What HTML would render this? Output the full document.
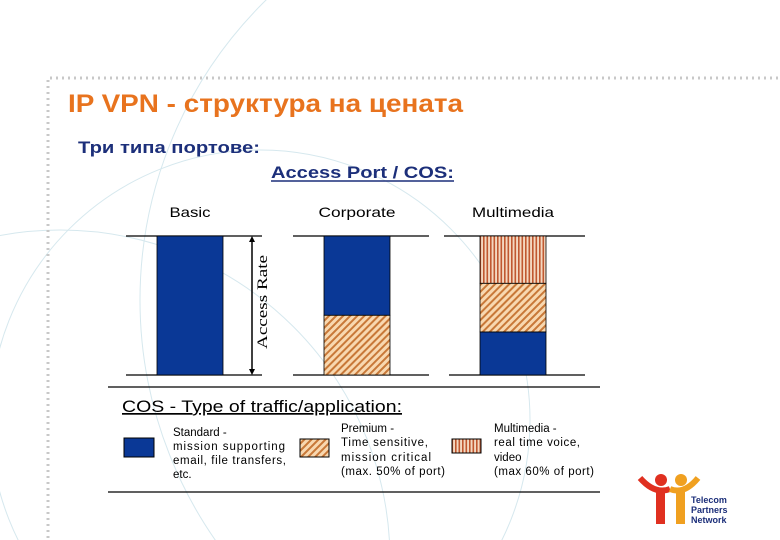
<!DOCTYPE html>
<html><head><meta charset="utf-8"><style>
html,body{margin:0;width:780px;height:540px;overflow:hidden;background:#fff;font-family:"Liberation Sans",sans-serif;}
svg{display:block;overflow:hidden;}
</style></head><body>
<svg width="780" height="540" xmlns="http://www.w3.org/2000/svg">
<defs>
<clipPath id="clip"><rect width="780" height="540"/></clipPath>
<pattern id="diag" width="5" height="5" patternUnits="userSpaceOnUse" patternTransform="rotate(45)">
<rect width="5" height="5" fill="#f8d8b0"/><rect width="2" height="5" fill="#c87838"/></pattern>
<pattern id="vert" width="3.5" height="4" patternUnits="userSpaceOnUse">
<rect width="3.5" height="4" fill="#f4d8c0"/><rect width="1.6" height="4" fill="#c05830"/></pattern>
</defs>
<g clip-path="url(#clip)" fill="none" stroke="#d6e8ee" stroke-width="1">
<circle cx="260" cy="420" r="270"/><circle cx="560" cy="300" r="420"/><circle cx="60" cy="560" r="330"/>
</g>
<line x1="50" y1="78" x2="780" y2="78" stroke="#c8c8c8" stroke-width="3" stroke-dasharray="2 4"/>
<line x1="48" y1="80" x2="48" y2="540" stroke="#c8c8c8" stroke-width="3" stroke-dasharray="2 4"/>
<text x="68" y="112" font-size="25" font-weight="bold" fill="#e8731e" textLength="395" lengthAdjust="spacingAndGlyphs">IP VPN - структура на цената</text>
<text x="78" y="153" font-size="17" font-weight="bold" fill="#1c2f7a" textLength="182" lengthAdjust="spacingAndGlyphs">Три типа портове:</text>
<text x="271" y="178" font-size="17" font-weight="bold" fill="#1c2f7a" textLength="183" lengthAdjust="spacingAndGlyphs">Access Port / COS:</text>
<line x1="271" y1="181" x2="454" y2="181" stroke="#1c2f7a" stroke-width="1.5"/>
<g id="chart"></g>
<line x1="252" y1="238" x2="252" y2="373" stroke="#000" stroke-width="1.5"/>
<path d="M249,242 L252,236 L255,242 Z M249,369 L252,375 L255,369 Z" fill="#000"/>
<text transform="translate(267,349) rotate(-90)" font-family="Liberation Serif,serif" font-size="15" fill="#000" textLength="94" lengthAdjust="spacingAndGlyphs">Access Rate</text>
<line x1="108" y1="387" x2="600" y2="387" stroke="#000" stroke-width="1.2"/>
<line x1="108" y1="492" x2="600" y2="492" stroke="#000" stroke-width="1.2"/>
<text x="122" y="412" font-size="17" fill="#000" text-decoration="underline" textLength="280" lengthAdjust="spacingAndGlyphs">COS - Type of traffic/application:</text>
<g>
<rect x="124" y="438" width="30" height="19" fill="#0a3896" stroke="#000"/>
<text font-size="11.5" fill="#000"><tspan x="173" y="436">Standard -</tspan><tspan x="173" y="450" textLength="112">mission supporting</tspan><tspan x="173" y="464" textLength="113">email, file transfers,</tspan><tspan x="173" y="478">etc.</tspan></text></g>
<g>
<rect x="300" y="439" width="29" height="18" fill="url(#diag)" stroke="#000"/>
<text font-size="11.5" fill="#000"><tspan x="341" y="432">Premium -</tspan><tspan x="341" y="446" textLength="87">Time sensitive,</tspan><tspan x="341" y="461" textLength="90">mission critical</tspan><tspan x="341" y="475" textLength="104">(max. 50% of port)</tspan></text></g>
<g>
<rect x="452" y="439" width="29" height="14" fill="url(#vert)" stroke="#000"/>
<text font-size="11.5" fill="#000"><tspan x="494" y="432">Multimedia -</tspan><tspan x="494" y="446" textLength="86">real time voice,</tspan><tspan x="494" y="461">video</tspan><tspan x="494" y="475" textLength="100">(max 60% of port)</tspan></text></g>
<g>
<circle cx="661" cy="480" r="6" fill="#e03020"/><circle cx="681" cy="480" r="6" fill="#f0a020"/>
<path d="M640,478 Q655,495 670,489" stroke="#e03020" stroke-width="6" fill="none"/>
<path d="M670,489 Q684,495 698,478" stroke="#f0a020" stroke-width="6" fill="none"/>
<rect x="656" y="489" width="9" height="35" fill="#e03020"/><rect x="676" y="489" width="9" height="35" fill="#f0a020"/>
<text font-size="9" font-weight="bold" fill="#1c2f7a"><tspan x="691" y="503">Telecom</tspan><tspan x="691" y="513">Partners</tspan><tspan x="691" y="523">Network</tspan></text></g>
</svg>
<script>
const categories=["Basic","Corporate","Multimedia"];
const standardVals=[100,57,31];
const premiumVals=[0,43,35];
const multimediaVals=[0,0,34];
const stackOrders=[["standard"],["premium","standard"],["standard","premium","multimedia"]];
const g=document.getElementById('chart');
const NS="http://www.w3.org/2000/svg";
const top0=236,bot0=375;
function y(v){return bot0-(v/100)*(bot0-top0);}
const colX=[126,293,449],colW=136,barOff=31,barW=66;
const seriesMap={standard:[standardVals,"#0a3896"],premium:[premiumVals,"url(#diag)"],multimedia:[multimediaVals,"url(#vert)"]};
const labelLen=[41,77,82];
categories.forEach((c,i)=>{
  const x0=colX[i];
  [top0,bot0].forEach((yy,k)=>{const l=document.createElementNS(NS,'line');
    l.setAttribute('x1',x0-(i===2&&!k?5:0));l.setAttribute('x2',x0+colW);l.setAttribute('y1',yy);l.setAttribute('y2',yy);
    l.setAttribute('stroke','#000');l.setAttribute('stroke-width','1.2');
    
    
    g.appendChild(l);});
  let acc=0;
  stackOrders[i].forEach(key=>{const s=seriesMap[key];const v=s[0][i];if(!v)return;
    const r=document.createElementNS(NS,'rect');
    r.setAttribute('x',x0+barOff);r.setAttribute('width',barW);
    r.setAttribute('y',y(acc+v));r.setAttribute('height',y(acc)-y(acc+v));
    r.setAttribute('fill',s[1]);r.setAttribute('stroke','#000');r.setAttribute('stroke-width','0.8');
    
    
    g.appendChild(r);acc+=v;});
  const t=document.createElementNS(NS,'text');
  t.setAttribute('x',x0+barOff+barW/2-labelLen[i]/2);t.setAttribute('y',217);
  t.setAttribute('font-size','14');t.setAttribute('fill','#000');
  t.setAttribute('textLength',labelLen[i]);t.setAttribute('lengthAdjust','spacingAndGlyphs');
  t.textContent=c;
  
  
  g.appendChild(t);
});
</script>
</body></html>
